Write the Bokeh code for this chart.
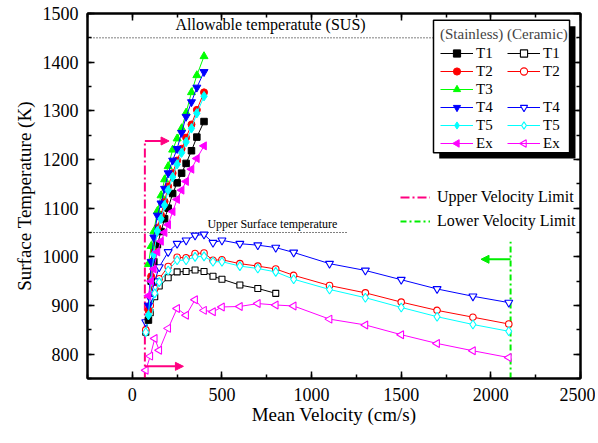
import math
from bokeh.plotting import figure
from bokeh.models import (Range1d, SingleIntervalTicker, LinearAxis, Legend, LegendItem,
                          Arrow, NormalHead, BoxAnnotation, Label)
from bokeh.embed import file_html
from bokeh.resources import INLINE

FONT = "Liberation Serif"
PINK = "#FF0080"
LGREEN = "#00EE00"

# ---------------- data ----------------
# Stainless (filled markers)
SS_V = [90, 105, 120, 140, 160, 180, 200, 225, 250, 275, 300, 330, 360, 400]
SS_T1 = [870, 950, 990, 1025, 1052, 1078, 1100, 1130, 1152, 1172, 1192, 1218, 1246, 1278]
SS_T2 = [890, 960, 1012, 1060, 1086, 1114, 1145, 1172, 1198, 1222, 1245, 1272, 1302, 1338]
SS_T3 = [985, 1022, 1052, 1094, 1126, 1159, 1186, 1220, 1243, 1264, 1296, 1338, 1373, 1412]
SS_T4 = [900, 990, 1040, 1085, 1110, 1140, 1172, 1198, 1222, 1255, 1288, 1318, 1348, 1380]
SS_T5 = [880, 950, 1005, 1053, 1078, 1106, 1137, 1164, 1190, 1214, 1236, 1264, 1295, 1330]
SS_EX = [920, 950, 975, 1010, 1032, 1050, 1066, 1093, 1118, 1137, 1155, 1180, 1202, 1228]

# Ceramic (open markers)
CE_V = [75, 100, 125, 150, 200, 250, 300, 350, 400, 450, 500, 600, 700, 800, 900,
        1100, 1300, 1500, 1700, 1900, 2100]
CE_T1_V = [75, 100, 125, 150, 200, 250, 300, 350, 400, 450, 500, 600, 700, 800]
CE_T1 = [845, 885, 918, 940, 957, 969, 970, 973, 970, 960, 954, 942, 935, 925]
CE_T2 = [850, 900, 935, 955, 980, 999, 998, 1007, 1008, 993, 994, 986, 981, 975, 962,
         941, 926, 907, 890, 876, 862]
CE_T4 = [866, 914, 950, 979, 1010, 1027, 1034, 1044, 1046, 1029, 1034, 1027, 1024, 1019, 1009,
         986, 972, 953, 934, 919, 906]
CE_T5 = [845, 890, 925, 948, 972, 993, 993, 1000, 1001, 990, 990, 981, 976, 969, 954,
         933, 916, 896, 877, 861, 847]
CE_EX = [767, 796, 832, 808, 853, 894, 880, 912, 890, 887, 897, 898, 904, 901, 899,
         872, 860, 840, 822, 807, 793]

ALLOWABLE_T = 1450
UPPER_SURFACE_T = 1050
UPPER_SURFACE_END_V = 1200
UPPER_V_LIMIT = 70
UPPER_LIMIT_TOP_T = 1238
UPPER_ARROW_TOP_END = 205
UPPER_ARROW_LOW_T = 775
UPPER_ARROW_LOW_END = 285
LOWER_V_LIMIT = 2110
LOWER_LIMIT_TOP_T = 1031
LOWER_ARROW_T = 995
LOWER_ARROW_END = 1945

X_TICKS = [0, 500, 1000, 1500, 2000, 2500]
Y_TICKS = [800, 900, 1000, 1100, 1200, 1300, 1400, 1500]
X_TICK_STEP = 500
Y_TICK_STEP = 100

# legend geometry (data units of the fixed frame)
LEG_SS_SYMBOL_X = 1811
LEG_CE_SYMBOL_X = 2185
LEG_EX_ROW_Y = 1233

# ---------------- figure ----------------
p = figure(frame_width=493, frame_height=365,
           x_range=Range1d(-250, 2500), y_range=Range1d(750, 1500),
           output_backend="svg", toolbar_location=None,
           min_border_left=87, min_border_right=15, min_border_top=13, min_border_bottom=45,
           background_fill_color="white", border_fill_color="white")
p.outline_line_color = "black"
p.outline_line_width = 2
p.xgrid.visible = False
p.ygrid.visible = False


def style_axis(ax, ticks, show_labels=True):
    ax.axis_line_width = 2
    ax.axis_line_color = "black"
    ax.major_tick_in = 7
    ax.major_tick_out = 0
    ax.minor_tick_in = 4
    ax.minor_tick_out = 0
    ax.major_tick_line_width = 1.5
    ax.minor_tick_line_width = 1.5
    ax.major_tick_line_color = "black"
    ax.minor_tick_line_color = "black"
    ax.major_label_text_font = FONT
    ax.major_label_text_color = "black"
    ax.major_label_text_font_size = "18px"
    if show_labels:
        ax.major_label_standoff = 9
    else:
        ax.major_label_standoff = 0
        ax.major_label_overrides = {t: "" for t in ticks}


p.xaxis.ticker = SingleIntervalTicker(interval=X_TICK_STEP, num_minor_ticks=2)
p.yaxis.ticker = SingleIntervalTicker(interval=Y_TICK_STEP, num_minor_ticks=2)
style_axis(p.xaxis[0], X_TICKS)
style_axis(p.yaxis[0], Y_TICKS)
p.xaxis.axis_label = "Mean Velocity (cm/s)"
p.yaxis.axis_label = "Surface Temperature (K)"
for ax in (p.xaxis[0], p.yaxis[0]):
    ax.axis_label_text_font = FONT
    ax.axis_label_text_font_size = "19px"
    ax.axis_label_text_font_style = "normal"
    ax.axis_label_text_color = "black"
p.xaxis.axis_label_standoff = 0
p.yaxis.axis_label_standoff = 5

top_ax = LinearAxis(ticker=SingleIntervalTicker(interval=X_TICK_STEP, num_minor_ticks=2))
right_ax = LinearAxis(ticker=SingleIntervalTicker(interval=Y_TICK_STEP, num_minor_ticks=2))
style_axis(top_ax, X_TICKS, False)
style_axis(right_ax, Y_TICKS, False)
p.add_layout(top_ax, "above")
p.add_layout(right_ax, "right")

# ---------------- reference lines ----------------
p.line([-250, 2500], [ALLOWABLE_T, ALLOWABLE_T], line_color="black", line_width=1, line_dash="1 2")
p.line([-250, UPPER_SURFACE_END_V], [UPPER_SURFACE_T, UPPER_SURFACE_T], line_color="black",
       line_width=1, line_dash="1 2")

upper_r = p.line([UPPER_V_LIMIT, UPPER_V_LIMIT], [750, UPPER_LIMIT_TOP_T], line_color=PINK,
                 line_width=2, line_dash="9 3 2 3")
lower_r = p.line([LOWER_V_LIMIT, LOWER_V_LIMIT], [750, LOWER_LIMIT_TOP_T], line_color=LGREEN,
                 line_width=2, line_dash="6 3 2 3")

# ---------------- series ----------------
LEFT = math.pi / 2
ceramic = [
    ("T1", CE_T1_V, CE_T1, "black", "square", 0.0, 6),
    ("T2", CE_V, CE_T2, "red", "circle", 0.0, 6.5),
    ("T4", CE_V, CE_T4, "blue", "inverted_triangle", 0.0, 8),
    ("T5", CE_V, CE_T5, "cyan", "diamond", 0.0, 9),
    ("Ex", CE_V, CE_EX, "magenta", "triangle", LEFT, 8),
]
stainless = [
    ("T1", SS_V, SS_T1, "black", "square", 0.0, 6.5),
    ("T2", SS_V, SS_T2, "red", "circle", 0.0, 7),
    ("T3", SS_V, SS_T3, "#00FF00", "triangle", 0.0, 8),
    ("T4", SS_V, SS_T4, "blue", "inverted_triangle", 0.0, 8),
    ("T5", SS_V, SS_T5, "cyan", "diamond", 0.0, 9.5),
    ("Ex", SS_V, SS_EX, "magenta", "triangle", LEFT, 8),
]

ce_items = {}
for name, xs, ys, col, mk, ang, sz in ceramic:
    lr = p.line(xs, ys, line_color=col, line_width=1)
    sr = p.scatter(xs, ys, marker=mk, size=sz, angle=ang, fill_color="white",
                   line_color=col, line_width=1.1)
    # legend ignores marker rotation, so the rotated Ex symbol is drawn separately
    ce_items[name] = LegendItem(label=name, renderers=[lr] if ang else [lr, sr])

ss_items = []
for name, xs, ys, col, mk, ang, sz in stainless:
    lr = p.line(xs, ys, line_color=col, line_width=1)
    sr = p.scatter(xs, ys, marker=mk, size=sz, angle=ang, fill_color=col,
                   line_color=col, line_width=1)
    ss_items.append(LegendItem(label=name, renderers=[lr] if ang else [lr, sr]))

blank_r = p.line([], [], line_alpha=0)
ce_list = [ce_items["T1"], ce_items["T2"], LegendItem(label=" ", renderers=[blank_r]),
           ce_items["T4"], ce_items["T5"], ce_items["Ex"]]

# ---------------- arrows ----------------
p.add_layout(Arrow(x_start=UPPER_V_LIMIT, y_start=UPPER_LIMIT_TOP_T, x_end=UPPER_ARROW_TOP_END,
                   y_end=UPPER_LIMIT_TOP_T, line_color=PINK, line_width=2,
                   end=NormalHead(size=8, fill_color=PINK, line_color=PINK)))
p.add_layout(Arrow(x_start=UPPER_V_LIMIT, y_start=UPPER_ARROW_LOW_T, x_end=UPPER_ARROW_LOW_END,
                   y_end=UPPER_ARROW_LOW_T, line_color=PINK, line_width=2,
                   end=NormalHead(size=8, fill_color=PINK, line_color=PINK)))
p.add_layout(Arrow(x_start=LOWER_V_LIMIT, y_start=LOWER_ARROW_T, x_end=LOWER_ARROW_END,
                   y_end=LOWER_ARROW_T, line_color=LGREEN, line_width=2,
                   end=NormalHead(size=8, fill_color=LGREEN, line_color=LGREEN)))

# ---------------- text ----------------
p.add_layout(Label(x=771, y=1477, text="Allowable temperatute (SUS)", text_font=FONT,
                   text_font_size="16px", text_align="center", text_baseline="middle",
                   text_color="black"))
p.add_layout(Label(x=419, y=1068, text="Upper Surface temperature", text_font=FONT,
                   text_font_size="12px", text_align="left", text_baseline="middle",
                   text_color="black"))

# ---------------- legend box ----------------
p.add_layout(BoxAnnotation(left=1712, right=2472, top=1474, bottom=1202, fill_color="black",
                           fill_alpha=1, line_alpha=0))
p.add_layout(BoxAnnotation(left=1680, right=2439, top=1486, bottom=1214, fill_color="white",
                           fill_alpha=1, line_color="black", line_width=1.5, line_alpha=1))

common = dict(orientation="vertical", glyph_width=33, glyph_height=18, label_height=18,
              spacing=0, padding=2, label_standoff=3, margin=0,
              label_text_font=FONT, label_text_font_size="15px", label_text_color="black",
              title_text_font=FONT, title_text_font_size="15px", title_text_font_style="normal",
              title_standoff=1, border_line_alpha=0, background_fill_alpha=0)
leg1 = Legend(items=ss_items, title="(Stainless)", location=(351, 224), **common)
leg2 = Legend(items=ce_list, title="(Ceramic)", location=(418, 224), **common)
p.add_layout(leg1, "center")
p.add_layout(leg2, "center")

# rotated Ex symbols of the legend, drawn above the legend box
p.scatter([LEG_SS_SYMBOL_X], [LEG_EX_ROW_Y], marker="triangle", size=7.5, angle=LEFT,
          fill_color="magenta", line_color="magenta", level="overlay")
p.scatter([LEG_CE_SYMBOL_X], [LEG_EX_ROW_Y], marker="triangle", size=7.5, angle=LEFT,
          fill_color="white", line_color="magenta", line_width=1.1, level="overlay")

leg3 = Legend(items=[LegendItem(label="Upper Velocity Limit", renderers=[upper_r]),
                     LegendItem(label="Lower Velocity Limit", renderers=[lower_r])],
              location=(311, 145), orientation="vertical", glyph_width=30, glyph_height=20,
              label_height=20, spacing=4, padding=2, label_standoff=7, margin=0,
              label_text_font=FONT, label_text_font_size="16px", label_text_color="black",
              border_line_alpha=0, background_fill_alpha=0)
p.add_layout(leg3, "center")

open("out.html", "w").write(file_html(p, INLINE))
